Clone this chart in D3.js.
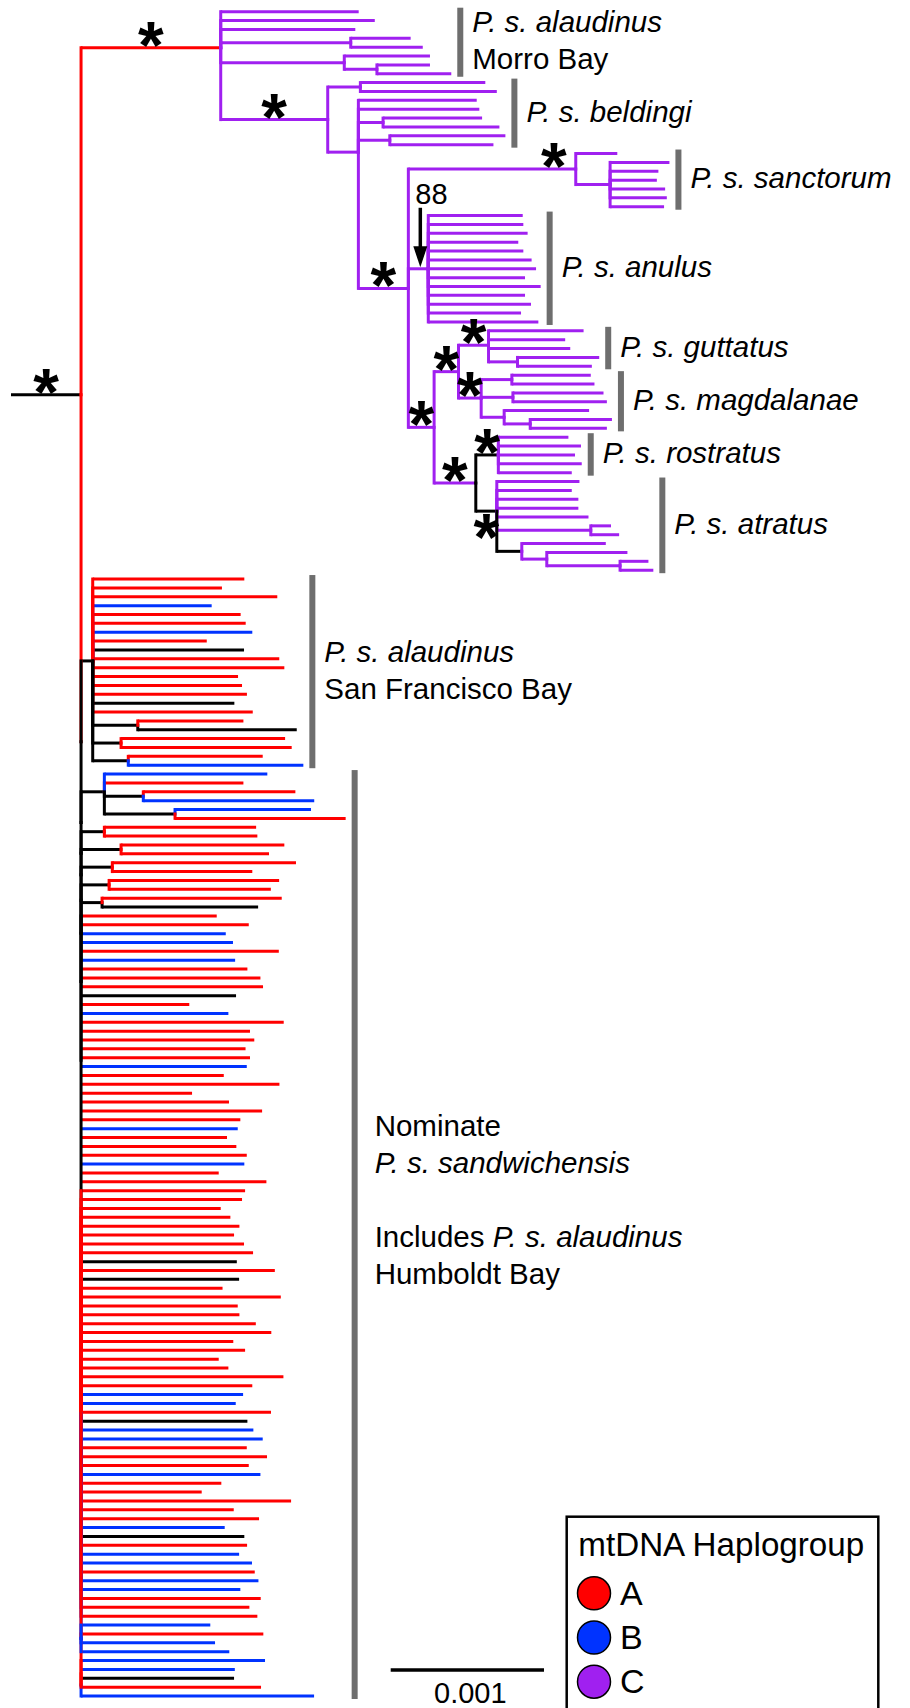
<!DOCTYPE html>
<html>
<head>
<meta charset="utf-8">
<script src="https://cdn.jsdelivr.net/npm/d3@7"></script>
<style>
  body { margin: 0; background: #fff; }
  svg { display: block; font-family: "Liberation Sans", Arial, Helvetica, sans-serif; }
</style>
</head>
<body>
<script>
// Branch lengths are in units of 1e-5 substitutions/site.
// Labels: 1st letter = branch colour (a/b/c = haplogroup A/B/C, k = black),
// optional 2nd letter = colour of the node's vertical, "*" = full support, "@n" = support value.

// Haplogroup C (purple) clade
var morroBay = "c:90.0,c:100.5,c:87.8,(c:39.1,c:47.0)c:84.8,(c:55.9,(c:34.6,c:48.5)c:21.3)c:80.6";
var beldingi = ["(c:81.5,c:89.0)c:21.3", "c:77.2,c:78.9,(c:64.6,c:75.9)c:16.1,(c:75.4,c:67.6)c:20.5"];
var sanctorum = "(c:27.1,(c:38.7,c:31.5,c:30.5,c:35.9,c:37.0,c:35.2)c:22.4)c*r:109.2";
var anulus = "(c:61.6,c:62.0,c:64.8,c:58.7,c:62.0,c:67.4,c:70.3,c:63.1,c:73.3,c:63.1,c:67.0,c:60.5,c:71.8)c@88:13.0";
var guttatus = "(c:62.0,c:50.0,c:53.3,(c:53.3,c:48.5)c:18.9)c*:19.6";
var magdalanae = "((c:51.5,c:53.9)c:20.0,(c:59.1,c:61.3)c:20.7,(c:55.4,(c:53.3,c:50.0)c:17.0)c:15.0)c*:14.8";
var rostratus = "(c:45.7,c:53.9,c:50.0,c:54.4,c:47.9)k*:14.7";
var atratus = "(c:53.9,c:48.9,c:53.2,c:53.2,c:59.8,(c:13.2,c:18.5)c:61.3,(c:54.8,(c:52.6,(c:18.5,c:21.7)c:47.8)c:16.3)k:16.3)k*b:13.7";

// Haplogroups A/B
var sanFrancisco = "(a:98.9,a:84.3,a:120.4,b:77.6,a:96.5,a:99.8,b:104.1,a:74.4,k:98.7,a:121.7,a:125.0,a:94.8,a:97.4,a:100.6,k:92.4,a:104.4,(a:68.9,k:103.7)k:29.4,(a:107.0,a:111.3)k:18.5,(a:87.7,b:114.2)k:23.2)k:7.6";
var clade790 = "(b:106.3,a:90.7,(a:99.2,b:111.5)k:25.4,(b:88.7,a:111.3)k:46.1)k:15.2";
var cherries = ["(a:99.0,a:99.8)k:15.2", "(a:106.5,a:96.5)k:26.1", "(a:119.8,a:91.3)k:20.4",
                "(a:110.9,a:105.5)k:18.3", "(a:117.2,k:101.8)k:13.7"];
var nominateUpper = "a:88.5,a:109.4,b:94.4,b:99.1,a:129.0,b:100.5,a:108.5,a:117.0,a:118.7,k:101.1,a:70.6,b:96.1,a:132.2,a:110.2,a:113.0,a:107.3,a:110.2,b:108.1,a:93.1,a:129.4,a:72.4,a:96.5,a:118.1,a:103.9,b:102.2,a:95.2,a:101.3,a:108.1,b:106.5,a:89.8,a:120.9";
var nominateLower = "a:107.0,a:105.0,a:91.1,a:97.4,a:103.3,a:99.8,a:106.3,a:112.2,k:101.6,a:126.4,k:103.1,a:92.3,a:130.3,a:102.2,a:103.3,a:114.0,a:124.1,a:99.3,a:107.0,a:89.8,a:96.1,a:132.0,a:111.7,b:105.7,b:100.9,a:123.9,k:108.5,b:112.4,b:118.5,a:108.1,a:121.3,a:109.4,b:117.0,a:91.5,a:78.7,a:137.0,a:99.6,a:116.1,b:93.7,k:106.5,a:108.3,b:103.1,b:111.5,a:113.3,b:115.7,b:103.9,a:117.2,a:109.8,a:115.0";
var nominateBlue = "b:84.3,a:118.9,b:87.4,b:96.7";
var nominateRed = "b:120.0,b:100.3,k:99.8,a:117.4";
var nominateLast = "b:152.0";
var rootStub = 45.7;

// tip ranges (leaf order) and label lines for the grey bars
var groupTips = [[0, 7], [8, 15], [16, 22], [23, 35], [36, 40], [41, 47], [48, 52], [53, 63], [64, 85], [86, 190]];
var groupLines = [
  [[["P. s. alaudinus", 1]], [["Morro Bay", 0]]],
  [[["P. s. beldingi", 1]]],
  [[["P. s. sanctorum", 1]]],
  [[["P. s. anulus", 1]]],
  [[["P. s. guttatus", 1]]],
  [[["P. s. magdalanae", 1]]],
  [[["P. s. rostratus", 1]]],
  [[["P. s. atratus", 1]]],
  [[["P. s. alaudinus", 1]], [["San Francisco Bay", 0]]],
  [[["Nominate", 0]], [["P. s. sandwichensis", 1]], [], [["Includes ", 0], ["P. s. alaudinus", 1]], [["Humboldt Bay", 0]]]
];
var haplogroups = ["A", "B", "C"];
var scaleBarUnits = 100;

var colour = {a: "#ff0000", b: "#0033ff", c: "#a020f0", k: "#000000"};
var legendColour = {A: colour.a, B: colour.b, C: colour.c};

// assemble the tree
var southern = "(" + sanctorum + "," + anulus + ",((" + guttatus + "," + magdalanae + ")c*:15.9,(" +
  rostratus + "," + atratus + ")c*:27.2)c*:16.8)c*:32.6";
var cladeC = "(" + morroBay + ",(" + beldingi[0] + ",(" + beldingi[1] + "," + southern + ")c:20.0)c*:69.8)a*:91.1";
var tail = "(" + nominateUpper + ",(" + nominateLower + ",(" + nominateBlue + ")b:0,((" + nominateRed + ")aa:0," +
  nominateLast + ")a:0)a:0)kk:0";
tail = cherries.reduceRight(function(acc, c) { return "(" + c + "," + acc + ")k:0"; }, tail);
tail = "(" + clade790 + "," + tail + ")k:0";
var cladeAB = "(" + sanFrancisco + "," + tail + ")a:0";
var newick = "(" + cladeC + "," + cladeAB + ")k*:" + rootStub + ";";

function parseNewick(s) {
  var i = 0;
  function node() {
    var n = {children: null, label: "", length: 0};
    if (s[i] === "(") {
      n.children = [];
      i++;
      do { n.children.push(node()); } while (s[i++] === ",");
    }
    var lab = "";
    while (i < s.length && ",():;".indexOf(s[i]) < 0) lab += s[i++];
    n.label = lab;
    if (s[i] === ":") {
      i++;
      var num = "";
      while (i < s.length && ",();".indexOf(s[i]) < 0) num += s[i++];
      n.length = +num;
    }
    return n;
  }
  return node();
}

function parseLabel(s) {
  var m = /^([abck])([abck])?(\*[rb]?)?(?:@(\d+))?$/.exec(s);
  return {stem: m[1], vert: m[2] || null, star: m[3] || null, support: m[4] || null};
}

var width = 910, height = 1708;

var root = d3.hierarchy(parseNewick(newick.replace(/\s+/g, "")), function(d) { return d.children; });
d3.cluster().nodeSize([1, 1]).separation(function() { return 1; })(root);
root.eachBefore(function(n) {
  n.info = parseLabel(n.data.label);
  n.len = (n.parent ? n.parent.len : 0) + n.data.length;
});
var leaves = root.leaves();

var x = d3.scaleLinear().domain([0, 100]).range([11, 164.3]);
var y = d3.scaleLinear().domain(d3.extent(leaves, function(d) { return d.x; })).range([11.7, 1696]);

var svg = d3.select("body").append("svg")
    .attr("width", width)
    .attr("height", height);
svg.append("rect").attr("width", width).attr("height", height).attr("fill", "#fff");

var gH = svg.append("g").attr("stroke-width", 3).attr("stroke-linecap", "butt");
var gV = svg.append("g").attr("stroke-width", 3).attr("stroke-linecap", "square");

// horizontal branches
root.descendants().forEach(function(n) {
  var x0 = n.parent ? x(n.parent.len) : x(0), x1 = x(n.len);
  if (x1 - x0 < 0.01) return;
  gH.append("line")
      .attr("x1", x0).attr("x2", x1)
      .attr("y1", y(n.x)).attr("y2", y(n.x))
      .attr("stroke", colour[n.info.stem]);
});

// verticals, ancestors first so descendants sit on top
root.descendants().filter(function(n) { return n.children; }).forEach(function(n) {
  var nx = x(n.len), y0 = y(n.x);
  if (n.info.vert) {
    gV.append("line")
        .attr("x1", nx).attr("x2", nx)
        .attr("y1", y(n.children[0].x)).attr("y2", y(n.children[n.children.length - 1].x))
        .attr("stroke", colour[n.info.vert]);
    return;
  }
  n.children.slice()
    .sort(function(a, b) { return Math.abs(y(a.x) - y0) - Math.abs(y(b.x) - y0); })
    .forEach(function(c) {
      if (Math.abs(y(c.x) - y0) < 0.01) return;
      gV.append("line")
          .attr("x1", nx).attr("x2", nx)
          .attr("y1", y0).attr("y2", y(c.x))
          .attr("stroke", colour[c.info.stem]);
    });
});

// support asterisks
root.descendants().filter(function(n) { return n.info.star; }).forEach(function(n) {
  var x0 = n.parent ? x(n.parent.len) : x(0), x1 = x(n.len);
  var cx = (x0 + x1) / 2, cy = y(n.x) - 13;
  if (n.info.star === "*r") cx = x1 - 22;
  if (n.info.star === "*b") cy = y(n.x) + 16;
  svg.append("text")
      .attr("x", cx).attr("y", cy + 33)
      .attr("text-anchor", "middle")
      .style("font-size", "66px").style("font-weight", "bold")
      .text("*");
});

// numeric support with arrow
root.descendants().filter(function(n) { return n.info.support; }).forEach(function(n) {
  var x0 = x(n.parent.len), x1 = x(n.len), ny = y(n.x);
  var ax = x0 + (x1 - x0) * 0.6;
  svg.append("line")
      .attr("x1", ax).attr("x2", ax)
      .attr("y1", ny - 61).attr("y2", ny - 20)
      .attr("stroke", "#000").attr("stroke-width", 3.5);
  svg.append("path")
      .attr("d", "M" + (ax - 7) + "," + (ny - 22.5) + "L" + (ax + 7) + "," + (ny - 22.5) + "L" + ax + "," + (ny - 1.5) + "Z")
      .attr("fill", "#000");
  svg.append("text")
      .attr("x", ax - 5).attr("y", ny - 65)
      .style("font-size", "29px")
      .text(n.info.support);
});

// grey bars and clade labels
groupTips.forEach(function(g, gi) {
  var tips = leaves.slice(g[0], g[1] + 1);
  var first = y(tips[0].x), last = y(tips[tips.length - 1].x);
  var barX = d3.max(tips, function(d) { return x(d.len); }) + 9;
  svg.append("rect")
      .attr("x", barX - 3).attr("y", first - 4)
      .attr("width", 6).attr("height", last - first + 7)
      .attr("fill", "#6e6e6e");
  var lines = groupLines[gi];
  var mid = (first + last) / 2;
  var dx = gi === 9 ? 8 : 0, dy = gi === 9 ? -33 : 0;
  lines.forEach(function(line, li) {
    if (!line.length) return;
    var t = svg.append("text")
        .attr("x", barX + 12 + dx)
        .attr("y", mid + 8 - (lines.length - 1) * 37 / 2 + li * 37 + dy)
        .style("font-size", "29.5px");
    line.forEach(function(seg) {
      t.append("tspan").style("font-style", seg[1] ? "italic" : "normal").text(seg[0]);
    });
  });
});

// scale bar
var barLen = x(scaleBarUnits) - x(0);
svg.append("line")
    .attr("x1", 390.7).attr("x2", 390.7 + barLen)
    .attr("y1", 1670).attr("y2", 1670)
    .attr("stroke", "#000").attr("stroke-width", 3.5);
svg.append("text")
    .attr("x", 390.7 + barLen / 2 + 3).attr("y", 1703)
    .attr("text-anchor", "middle")
    .style("font-size", "29px")
    .text((scaleBarUnits * 1e-5).toFixed(3));

// legend
var legend = svg.append("g");
legend.append("rect")
    .attr("x", 566.7).attr("y", 1516.7)
    .attr("width", 311.6).attr("height", 210)
    .attr("fill", "#fff").attr("stroke", "#000").attr("stroke-width", 2.5);
legend.append("text")
    .attr("x", 578.3).attr("y", 1556)
    .style("font-size", "33.2px")
    .text("mtDNA Haplogroup");
haplogroups.forEach(function(h, i) {
  var cy = 1593.3 + i * 44.2;
  legend.append("circle")
      .attr("cx", 594).attr("cy", cy).attr("r", 16.5)
      .attr("fill", legendColour[h]).attr("stroke", "#000").attr("stroke-width", 1.5);
  legend.append("text")
      .attr("x", 620).attr("y", cy + 11.5)
      .style("font-size", "34px")
      .text(h);
});
</script>
</body>
</html>
